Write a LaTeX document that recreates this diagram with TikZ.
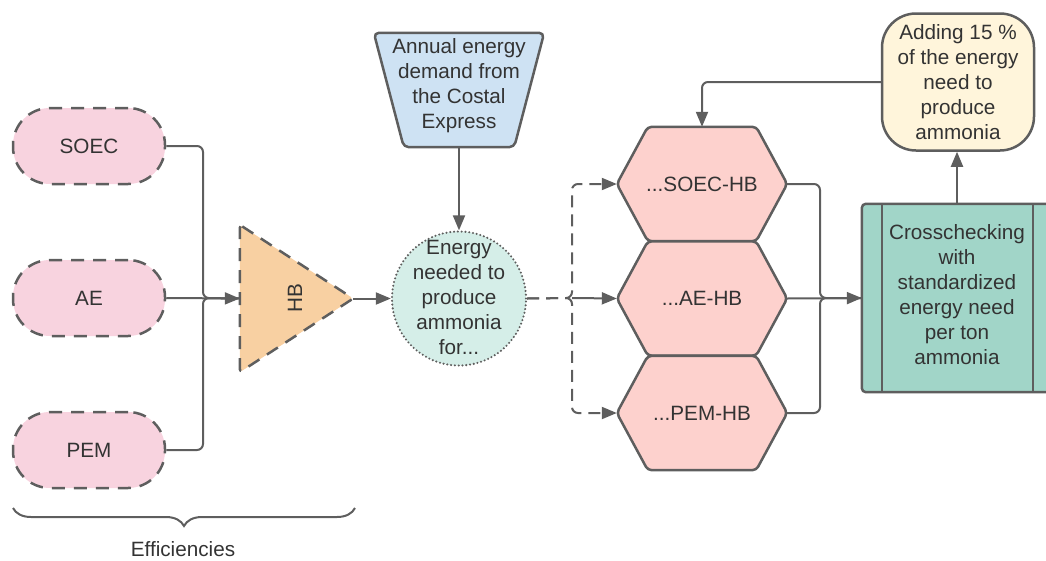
\documentclass[tikz,border=0pt]{standalone}
\usepackage{fontspec}
\setmainfont{Liberation Sans}
\usetikzlibrary{arrows.meta,decorations.pathreplacing,calc,backgrounds}
\definecolor{edge}{HTML}{5E5E5E}
\definecolor{ink}{HTML}{333333}
\definecolor{pinkfill}{HTML}{F8D3DF}
\definecolor{orangefill}{HTML}{F8D0A2}
\definecolor{tealfill}{HTML}{D5EEE8}
\definecolor{bluefill}{HTML}{CEE2F3}
\definecolor{salmon}{HTML}{FDD1CD}
\definecolor{greenfill}{HTML}{A1D5C8}
\definecolor{creamfill}{HTML}{FFF5DB}
\newcommand{\hexpath}[1]{%
  \begin{scope}[on background layer]
    \draw[border, fill=salmon, rounded corners=4pt]
      (#1.west) -- ($(#1.north west)+(31,0)$) -- ($(#1.north east)+(-31,0)$)
      -- (#1.east) -- ($(#1.south east)+(-31,0)$) -- ($(#1.south west)+(31,0)$) -- cycle;
  \end{scope}}
\begin{document}
\begin{tikzpicture}[x=1pt,y=-1pt,
  font=\fontsize{20.7}{25}\selectfont, text=ink,
  conn/.style={draw=edge, line width=2pt, rounded corners=6pt},
  tip/.style={-{Triangle[length=15pt,width=12pt]}},
  dashconn/.style={dash pattern=on 12pt off 7pt},
  border/.style={draw=edge, line width=2.5pt, line join=round},
  longdash/.style={dash pattern=on 13pt off 9pt},
  stad/.style={border, longdash, fill=pinkfill, rounded corners=37pt,
    minimum width=152pt, minimum height=76pt},
  txt/.style={align=center, inner sep=0pt},
  hexbox/.style={inner sep=0pt, minimum width=170pt, minimum height=114pt},
]
\useasboundingbox (0,0) rectangle (1046,560);

% electrolyser efficiencies
\node[stad] (soec) at (89,146) {SOEC};
\node[stad] (ae)   at (89,298) {AE};
\node[stad] (pem)  at (89,450) {PEM};

% Haber-Bosch triangle
\node[inner sep=0pt, minimum width=113pt, minimum height=147pt] (hb) at (296.5,298.5) {};
\draw[border, longdash, fill=orangefill, rounded corners=3pt]
  (hb.north west) -- (hb.east) -- (hb.south west) -- cycle;
\node[rotate=90, inner sep=0pt] (hbtext) at (295,298) {HB};

% energy need circle
\node[circle, minimum size=134pt, fill=tealfill, draw=edge, line width=2.3pt,
  dash pattern=on 0pt off 3.8pt, line cap=round, inner sep=0pt] (need) at (459,298.5) {};
\node[txt] (needtxt) at (459,297) {Energy\\needed to\\produce\\ammonia\\for...};

% annual demand trapezoid
\node[inner sep=0pt, minimum width=170pt, minimum height=114pt] (demand) at (459,90) {};
\draw[border, fill=bluefill, rounded corners=5pt]
  (demand.north west) -- (demand.north east) -- ($(demand.south east)+(-30,0)$)
  -- ($(demand.south west)+(30,0)$) -- cycle;
\node[txt] (demandtxt) at (459,86) {Annual energy\\demand from\\the Costal\\Express};

% hexagons
\node[hexbox] (h1) at (702,184) {...SOEC-HB};
\hexpath{h1}
\node[hexbox] (h2) at (702,298.5) {...AE-HB};
\hexpath{h2}
\node[hexbox] (h3) at (702,413) {...PEM-HB};
\hexpath{h3}

% crosschecking process box
\node[inner sep=0pt, minimum width=190pt, minimum height=188pt] (check) at (957,298) {};
\draw[border, fill=greenfill, rounded corners=4pt]
  (check.north west) rectangle (check.south east);
\draw[border] ($(check.north west)+(20,0)$) -- ($(check.south west)+(20,0)$);
\draw[border] ($(check.north east)+(-19,0)$) -- ($(check.south east)+(-19,0)$);
\node[txt] (checktxt) at (957,295)
  {Crosschecking\\with\\standardized\\energy need\\per ton\\ammonia};

% adding 15 percent
\node[border, fill=creamfill, rounded corners=34pt, minimum width=152pt,
  minimum height=137pt, txt] (add) at (958,82)
  {Adding 15 \%\\of the energy\\need to\\produce\\ammonia};

% junctions
\coordinate (mergeL) at (203,298);
\coordinate (splitR) at (572,298);
\coordinate (mergeR) at (820,298);

% connectors
\draw[conn] (soec.east) -| (mergeL) -- (hb.west);
\draw[conn] (pem.east) -| (mergeL) -- (hb.west);
\draw[conn, tip] (ae.east) -- (hb.west);
\draw[conn, tip] (hb.east) -- (need.west);
\draw[conn, tip] (demand.south) -- (need.north);
\draw[conn, dashconn, tip] (need.east) -- (splitR) |- (h1.west);
\draw[conn, dashconn, tip] (need.east) -- (splitR) |- (h3.west);
\draw[conn, tip] (splitR) -- (h2.west);
\draw[conn] (h1.east) -| (mergeR) -- (check.west);
\draw[conn] (h3.east) -| (mergeR) -- (check.west);
\draw[conn, tip] (h2.east) -- (check.west);
\draw[conn, tip] (check.north) -- (check.north |- add.south);
\draw[conn, tip] (add.west) -| (h1.north);

% efficiencies brace
\coordinate (braceL) at (13,508);
\coordinate (braceR) at (355,508);
\draw[draw=edge, line width=2pt, decorate,
  decoration={brace, amplitude=18pt, mirror}] (braceL) -- (braceR);
\node[inner sep=0pt, anchor=base] (eff) at (183,556.5) {Efficiencies};
\end{tikzpicture}
\end{document}
